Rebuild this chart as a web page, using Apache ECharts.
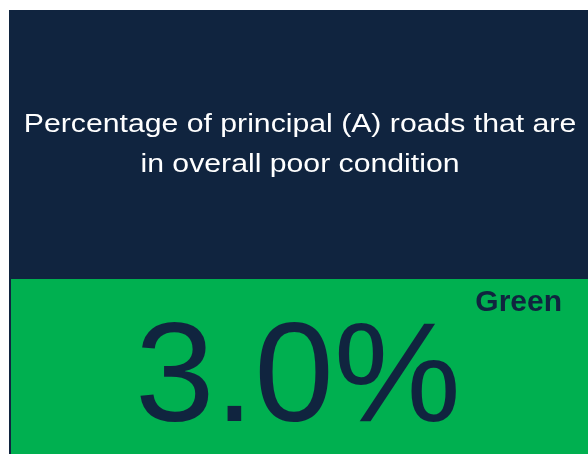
<!DOCTYPE html>
<html>
<head>
<meta charset="utf-8">
<script src="https://cdn.jsdelivr.net/npm/echarts@6/dist/echarts.min.js"></script>
<style>
html,body{margin:0;padding:0;background:#ffffff;}
#chart{width:588px;height:454px;}
</style>
</head>
<body>
<div id="chart"></div>
<script>
var titleLines = ['Percentage of principal (A) roads that are', 'in overall poor condition'];
var kpiValues = [3.0];
var kpiUnit = ['%'];
var ratingLabels = ['Green'];

var navy = '#10243f';
var green = '#00b050';
var font = '"Liberation Sans", Arial, sans-serif';

var chart = echarts.init(document.getElementById('chart'), null, {renderer: 'canvas'});

var elements = [
  {type: 'rect', shape: {x: 9, y: 10, width: 579, height: 444}, style: {fill: navy}},
  {type: 'rect', shape: {x: 11, y: 279, width: 577, height: 175}, style: {fill: green}}
];
titleLines.forEach(function (t, i) {
  elements.push({
    type: 'text', x: 300, y: 125 + i * 40, scaleX: 1.14,
    style: {text: t, fill: '#ffffff', font: '26.5px ' + font, textAlign: 'center', textVerticalAlign: 'middle'}
  });
});
elements.push({
  type: 'text', x: 298, y: 382, scaleX: 1.015,
  style: {text: kpiValues[0].toFixed(1) + kpiUnit[0], fill: navy, font: '141px ' + font, textAlign: 'center', textVerticalAlign: 'middle'}
});
elements.push({
  type: 'text', x: 562, y: 303,
  style: {text: ratingLabels[0], fill: navy, font: 'bold 30px ' + font, textAlign: 'right', textVerticalAlign: 'middle'}
});

chart.setOption({animation: false, graphic: {elements: elements}});
</script>
</body>
</html>
